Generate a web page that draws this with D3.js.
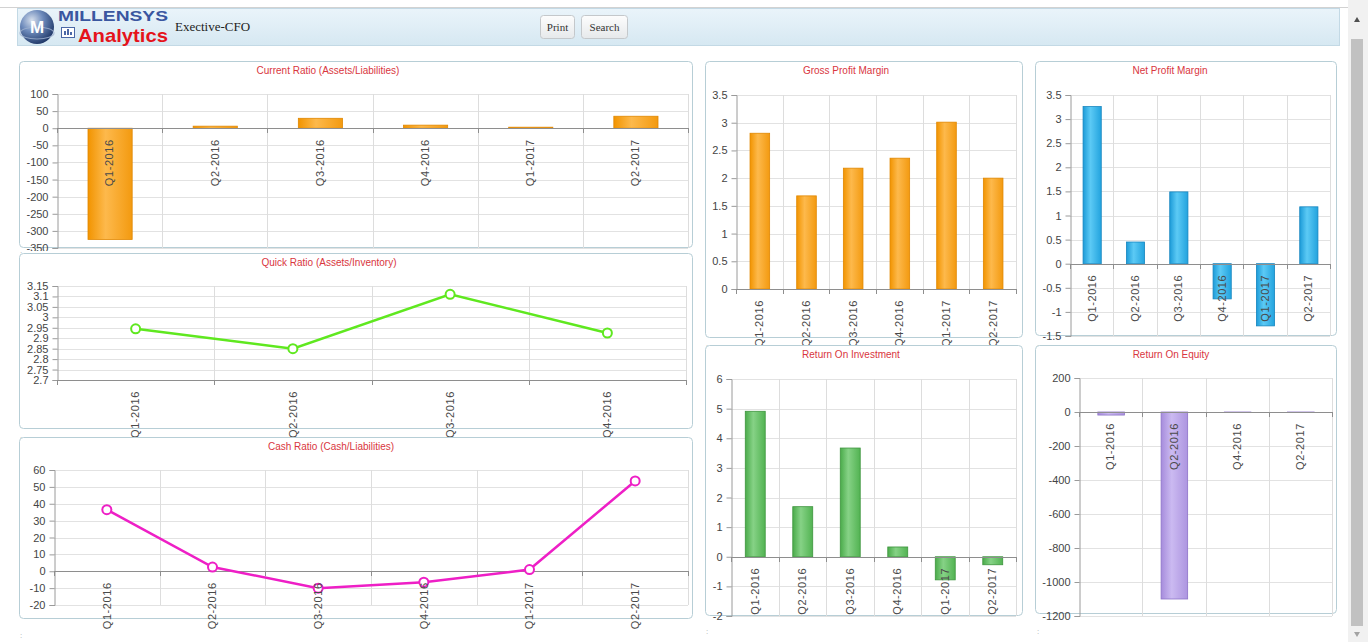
<!DOCTYPE html>
<html>
<head>
<meta charset="utf-8">
<title>Exective-CFO</title>
<script src="https://cdn.jsdelivr.net/npm/d3@7"></script>
<style>
  body { margin: 0; background: #fff; overflow: hidden; }
  svg text { font-family: "Liberation Sans", Arial, sans-serif; }
</style>
</head>
<body>
<svg id="page" width="1368" height="642"></svg>
<script>
// ---- data ----
const quarters = ['Q1-2016', 'Q2-2016', 'Q3-2016', 'Q4-2016', 'Q1-2017', 'Q2-2017'];
const quickQuarters = ['Q1-2016', 'Q2-2016', 'Q3-2016', 'Q4-2016'];
const equityQuarters = ['Q1-2016', 'Q2-2016', 'Q4-2016', 'Q2-2017'];

const currentRatio = [-325, 6, 29, 9, 3, 35];
const quickRatio = [2.945, 2.85, 3.11, 2.925];
const cashRatio = [36.5, 2.5, -10, -6.5, 1, 53.5];
const grossProfit = [2.81, 1.68, 2.18, 2.36, 3.01, 2.0];
const netProfit = [3.26, 0.45, 1.49, -0.73, -1.29, 1.18];
const returnInvestment = [4.91, 1.69, 3.67, 0.33, -0.78, -0.27];
const returnEquity = [-18, -1100, -2, -2];

const currentTicks = [100, 50, 0, -50, -100, -150, -200, -250, -300, -350];
const quickTicks = [3.15, 3.1, 3.05, 3, 2.95, 2.9, 2.85, 2.8, 2.75, 2.7];
const cashTicks = [60, 50, 40, 30, 20, 10, 0, -10, -20];
const grossTicks = [3.5, 3, 2.5, 2, 1.5, 1, 0.5, 0];
const netTicks = [3.5, 3, 2.5, 2, 1.5, 1, 0.5, 0, -0.5, -1, -1.5];
const investmentTicks = [6, 5, 4, 3, 2, 1, 0, -1, -2];
const equityTicks = [200, 0, -200, -400, -600, -800, -1000, -1200];

// ---- styles ----
const barFills = {
  orange: ['#f29400', '#fdb94c', '#f39a10', '#e08700'],
  blue:   ['#1c9bd8', '#5ccaf5', '#22a3de', '#1886bf'],
  green:  ['#4aab4a', '#86d286', '#52b352', '#3d943d'],
  purple: ['#a68cdc', '#cbbaf1', '#ad95e0', '#8d73c8']
};

const svg = d3.select('#page');
const defs = svg.append('defs');

Object.entries(barFills).forEach(([name, c]) => {
  const g = defs.append('linearGradient').attr('id', 'bar-' + name)
    .attr('x1', '0%').attr('x2', '100%').attr('y1', '0%').attr('y2', '0%');
  g.append('stop').attr('offset', '0%').attr('stop-color', c[0]);
  g.append('stop').attr('offset', '40%').attr('stop-color', c[1]);
  g.append('stop').attr('offset', '100%').attr('stop-color', c[2]);
});

// ---- header ----
const hg = defs.append('linearGradient').attr('id', 'head').attr('x1', 0).attr('x2', 0).attr('y1', 0).attr('y2', 1);
hg.append('stop').attr('offset', '0%').attr('stop-color', '#eaf4fa');
hg.append('stop').attr('offset', '100%').attr('stop-color', '#d6e8f2');
const bg = defs.append('linearGradient').attr('id', 'btn').attr('x1', 0).attr('x2', 0).attr('y1', 0).attr('y2', 1);
bg.append('stop').attr('offset', '0%').attr('stop-color', '#fdfdfd');
bg.append('stop').attr('offset', '100%').attr('stop-color', '#e6e9eb');
const globe = defs.append('radialGradient').attr('id', 'globe').attr('cx', '35%').attr('cy', '30%').attr('r', '75%');
globe.append('stop').attr('offset', '0%').attr('stop-color', '#d6dfec');
globe.append('stop').attr('offset', '45%').attr('stop-color', '#6d8abb');
globe.append('stop').attr('offset', '100%').attr('stop-color', '#1d3565');

svg.append('line').attr('x1', 0).attr('x2', 1348).attr('y1', 7.5).attr('y2', 7.5).attr('stroke', '#d2d2d2');
svg.append('rect').attr('x', 17.5).attr('y', 8.5).attr('width', 1322).attr('height', 37)
  .attr('fill', 'url(#head)').attr('stroke', '#c3d9e5');

const logo = svg.append('g');
logo.append('circle').attr('cx', 37).attr('cy', 27).attr('r', 17).attr('fill', 'url(#globe)');
logo.append('ellipse').attr('cx', 37).attr('cy', 33).attr('rx', 17).attr('ry', 6)
  .attr('fill', 'none').attr('stroke', '#9fb2cf').attr('stroke-width', 1.2).attr('opacity', 0.8);
logo.append('text').attr('x', 37).attr('y', 33).attr('text-anchor', 'middle')
  .attr('font-size', 17).attr('font-weight', 'bold').attr('fill', '#fff').text('M');
logo.append('rect').attr('x', 61.5).attr('y', 27.5).attr('width', 13).attr('height', 10)
  .attr('fill', '#fff').attr('stroke', '#4b68a6');
[[64, 4], [67, 6], [70, 3]].forEach(([x, h]) =>
  logo.append('rect').attr('x', x).attr('y', 35 - h).attr('width', 2).attr('height', h).attr('fill', '#4b68a6'));
logo.append('text').attr('x', 58).attr('y', 21)
  .attr('font-size', 15).attr('font-weight', 'bold').attr('fill', '#3a56a0')
  .attr('textLength', 110).attr('lengthAdjust', 'spacingAndGlyphs').text('MILLENSYS');
logo.append('text').attr('x', 78).attr('y', 41.5)
  .attr('font-size', 19).attr('font-weight', 'bold').attr('fill', '#e5131b')
  .attr('textLength', 90).attr('lengthAdjust', 'spacingAndGlyphs').text('Analytics');
svg.append('text').attr('x', 175).attr('y', 31)
  .style('font-family', '"Liberation Serif", "DejaVu Serif", serif')
  .attr('font-size', 13).attr('fill', '#222').text('Exective-CFO');

[['Print', 540, 34], ['Search', 581, 46]].forEach(([label, x, w]) => {
  svg.append('rect').attr('x', x + 0.5).attr('y', 15.5).attr('width', w).attr('height', 23).attr('rx', 3)
    .attr('fill', 'url(#btn)').attr('stroke', '#c4c8cb');
  svg.append('text').attr('x', x + w / 2 + 0.5).attr('y', 31).attr('text-anchor', 'middle')
    .style('font-family', '"Liberation Serif", "DejaVu Serif", serif')
    .attr('font-size', 11).attr('fill', '#333').text(label);
});

// scrollbar
svg.append('rect').attr('x', 1348).attr('y', 0).attr('width', 20).attr('height', 642).attr('fill', '#f1f1f1');
svg.append('rect').attr('x', 1351).attr('y', 39).attr('width', 12).attr('height', 587).attr('fill', '#c1c1c1');
svg.append('path').attr('d', 'M1354,22 L1357,17 L1360,22 Z').attr('fill', '#505050');
svg.append('path').attr('d', 'M1354,632 L1357,637 L1360,632 Z').attr('fill', '#a3a3a3');

// ---- chart panels ----
const charts = [
  { title: 'Current Ratio (Assets/Liabilities)', type: 'bar', cats: quarters, values: currentRatio, ticks: currentTicks,
    panel: [19, 61, 673, 186], plot: [57, 688, 94, 248], titleX: 328, fill: 'orange', clipBottom: 251 },
  { title: 'Quick Ratio (Assets/Inventory)', type: 'line', cats: quickQuarters, values: quickRatio, ticks: quickTicks,
    panel: [19, 253, 673, 175], plot: [57, 686, 286, 380], titleX: 329, stroke: '#5fe81f' },
  { title: 'Cash Ratio (Cash/Liabilities)', type: 'line', cats: quarters, values: cashRatio, ticks: cashTicks,
    panel: [19, 437, 673, 181], plot: [54, 688, 470, 605], titleX: 331, stroke: '#ee1fc6' },
  { title: 'Gross Profit Margin', type: 'bar', cats: quarters, values: grossProfit, ticks: grossTicks,
    panel: [705, 61, 317, 276], plot: [736, 1016, 95, 289], titleX: 846, fill: 'orange' },
  { title: 'Net Profit Margin', type: 'bar', cats: quarters, values: netProfit, ticks: netTicks,
    panel: [1035, 61, 301, 274], plot: [1070, 1330, 95, 336], titleX: 1170, fill: 'blue' },
  { title: 'Return On Investment', type: 'bar', cats: quarters, values: returnInvestment, ticks: investmentTicks,
    panel: [705, 345, 317, 270], plot: [731, 1016, 379, 616], titleX: 851, fill: 'green' },
  { title: 'Return On Equity', type: 'bar', cats: equityQuarters, values: returnEquity, ticks: equityTicks,
    panel: [1035, 345, 301, 268], plot: [1079, 1332, 378, 616], titleX: 1171, fill: 'purple' }
];

// little resize grips under the panels
[[20, 256], [20, 441], [20, 638], [706, 349], [706, 634], [1037, 349], [1037, 634]].forEach(([x, y]) =>
  svg.append('text').attr('x', x).attr('y', y).attr('font-size', 8).attr('fill', '#aaa').text(':'));

charts.forEach((c, idx) => {
  const [px, py, pw, ph] = c.panel;
  const [left, right, top, bottom] = c.plot;

  svg.append('rect').attr('x', px + 0.5).attr('y', py + 0.5).attr('width', pw).attr('height', ph)
    .attr('rx', 4).attr('fill', '#fff').attr('stroke', '#b7ced6');

  const g = svg.append('g');
  if (c.clipBottom) {
    defs.append('clipPath').attr('id', 'clip' + idx)
      .append('rect').attr('x', px).attr('y', py).attr('width', pw).attr('height', c.clipBottom - py);
    g.attr('clip-path', `url(#clip${idx})`);
  }

  g.append('text').attr('x', c.titleX).attr('y', py + 13).attr('text-anchor', 'middle')
    .attr('font-size', 10).attr('fill', '#d9363e').text(c.title);

  const y = d3.scaleLinear().domain(d3.extent(c.ticks)).range([bottom, top]);
  const xGrid = d3.scaleBand().domain(c.cats).range([left, right]).padding(0);
  const xBar = d3.scaleBand().domain(c.cats).range([left, right]).paddingInner(0.58).paddingOuter(0.29);
  const [d0, d1] = y.domain();
  const base = y(Math.max(d0, Math.min(d1, 0)));
  const bounds = c.cats.map(d => xGrid(d)).concat([right]);

  // grid
  g.append('g').selectAll('line').data(c.ticks).join('line')
    .attr('x1', left).attr('x2', right)
    .attr('y1', d => Math.round(y(d)) + 0.5).attr('y2', d => Math.round(y(d)) + 0.5)
    .attr('stroke', '#e2e2e2');
  g.append('g').selectAll('line').data(bounds.slice(1)).join('line')
    .attr('x1', d => Math.round(d) + 0.5).attr('x2', d => Math.round(d) + 0.5)
    .attr('y1', top).attr('y2', bottom)
    .attr('stroke', '#dddddd');

  // y axis
  const yAxis = g.append('g').attr('transform', `translate(${left + 0.5},0)`)
    .call(d3.axisLeft(y).tickValues(c.ticks).tickSize(5).tickPadding(4).tickFormat(d => String(d)));
  yAxis.select('.domain').attr('stroke', '#9a9a9a');
  yAxis.selectAll('.tick line').attr('stroke', '#9a9a9a');
  yAxis.selectAll('.tick text').attr('fill', '#444').attr('font-size', 11)
    .style('font-family', '"Liberation Sans", Arial, sans-serif');

  // marks
  if (c.type === 'bar') {
    g.append('g').selectAll('rect').data(c.values).join('rect')
      .attr('x', (d, i) => xBar(c.cats[i]) + 0.5)
      .attr('y', d => y(Math.max(0, d)))
      .attr('width', xBar.bandwidth())
      .attr('height', d => Math.abs(y(d) - y(0)))
      .attr('fill', `url(#bar-${c.fill})`)
      .attr('stroke', barFills[c.fill][3]).attr('stroke-width', 0.8);
  }

  // x axis at zero
  g.append('line').attr('x1', left).attr('x2', right)
    .attr('y1', Math.round(base) + 0.5).attr('y2', Math.round(base) + 0.5).attr('stroke', '#8e8e8e');
  g.append('g').selectAll('line').data(bounds).join('line')
    .attr('x1', d => Math.round(d) + 0.5).attr('x2', d => Math.round(d) + 0.5)
    .attr('y1', Math.round(base)).attr('y2', Math.round(base) + 5)
    .attr('stroke', '#8e8e8e');

  if (c.type === 'line') {
    const cx = (d, i) => xGrid(c.cats[i]) + xGrid.bandwidth() / 2;
    g.append('path').datum(c.values)
      .attr('d', d3.line().x(cx).y(d => y(d)))
      .attr('fill', 'none').attr('stroke', c.stroke).attr('stroke-width', 2.5);
    g.append('g').selectAll('circle').data(c.values).join('circle')
      .attr('cx', cx).attr('cy', d => y(d)).attr('r', 4.5)
      .attr('fill', '#fff').attr('stroke', c.stroke).attr('stroke-width', 2);
  }

  // category labels, rotated, just under the zero line
  g.append('g').selectAll('text').data(c.cats).join('text')
    .attr('transform', d => `translate(${xGrid(d) + xGrid.bandwidth() / 2},${base + 11}) rotate(-90)`)
    .attr('text-anchor', 'end').attr('dy', '0.35em')
    .attr('font-size', 11).attr('letter-spacing', 0.6).attr('fill', '#4a4a4a')
    .text(d => d);
});
</script>
</body>
</html>
